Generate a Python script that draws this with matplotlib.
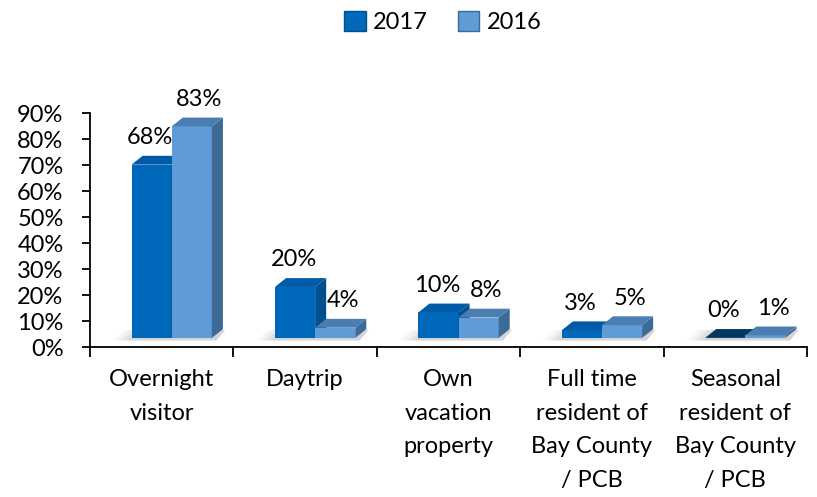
import matplotlib.pyplot as plt
from matplotlib.patches import Polygon, Patch
from matplotlib.ticker import FuncFormatter, FixedLocator

plt.rcParams["font.family"] = ["Lato", "DejaVu Sans"]

categories = [
    "Overnight\nvisitor",
    "Daytrip",
    "Own\nvacation\nproperty",
    "Full time\nresident of\nBay County\n/ PCB",
    "Seasonal\nresident of\nBay County\n/ PCB",
]
values_2017 = [0.68, 0.20, 0.10, 0.03, 0.00]
values_2016 = [0.83, 0.04, 0.08, 0.05, 0.01]
labels_2017 = ["68%", "20%", "10%", "3%", "0%"]
labels_2016 = ["83%", "4%", "8%", "5%", "1%"]

# fake 3D geometry (data units)
WIDTH = 0.28
DX = 0.077
DY = 0.034
FLOOR = 0.035
SCALE = 0.98

C2017 = {"front": "#0068BA", "top": "#005AA6", "side": "#00508F", "zero": "#003862"}
C2016 = {"front": "#5F9BD6", "top": "#4B7DB0", "side": "#3E6A98", "zero": "#4B7DB0"}

FS = 17


def draw_box(ax, x0, v, colors):
    h = FLOOR + v * SCALE
    if v > 0:
        ax.add_patch(Polygon([(x0, FLOOR), (x0 + WIDTH, FLOOR), (x0 + WIDTH, h), (x0, h)],
                             closed=True, facecolor=colors["front"], edgecolor="none", zorder=3))
        ax.add_patch(Polygon([(x0 + WIDTH, FLOOR), (x0 + WIDTH + DX, FLOOR + DY),
                              (x0 + WIDTH + DX, h + DY), (x0 + WIDTH, h)],
                             closed=True, facecolor=colors["side"], edgecolor="none", zorder=3))
        top = colors["top"]
    else:
        top = colors["zero"]
    ax.add_patch(Polygon([(x0, h), (x0 + WIDTH, h), (x0 + WIDTH + DX, h + DY), (x0 + DX, h + DY)],
                         closed=True, facecolor=top, edgecolor="none", zorder=3))
    return h


fig = plt.figure(figsize=(8.17, 4.97), dpi=100)
ax = fig.add_axes([90 / 817, 1 - 347 / 497, 717 / 817, 234 / 497])
ax.set_xlim(-0.5, len(categories) - 0.5)
ax.set_ylim(0, 0.9)

for i, (v17, v16) in enumerate(zip(values_2017, values_2016)):
    x17 = i - 0.21
    x16 = x17 + WIDTH
    # soft floor shadow, heavier towards the bars
    for k, a in enumerate([0.05, 0.07, 0.09, 0.11]):
        pad = 0.13 - k * 0.035
        ax.add_patch(Polygon([(x17 - pad, FLOOR - 0.010), (x16 + WIDTH + DX * 0.4, FLOOR - 0.010),
                              (x16 + WIDTH + DX + 0.015, FLOOR + DY * 0.9), (x17 - pad + DX, FLOOR + DY * 0.9)],
                             closed=True, facecolor="#707070", alpha=a, edgecolor="none", zorder=2))
    h17 = draw_box(ax, x17, v17, C2017)
    h16 = draw_box(ax, x16, v16, C2016)
    ax.annotate(labels_2017[i], (x17 + WIDTH / 2, h17), xytext=(-1, 19.5), textcoords="offset points",
                ha="center", va="center", fontsize=FS, zorder=4)
    ax.annotate(labels_2016[i], (x16 + WIDTH / 2, h16), xytext=(5.5, 19.5), textcoords="offset points",
                ha="center", va="center", fontsize=FS, zorder=4)

for s in ["top", "right"]:
    ax.spines[s].set_visible(False)
for s in ["left", "bottom"]:
    ax.spines[s].set_linewidth(1.3)
    ax.spines[s].set_color("black")

ax.yaxis.set_major_locator(FixedLocator([i / 10 for i in range(10)]))
ax.yaxis.set_major_formatter(FuncFormatter(lambda y, _: f"{y:.0%}"))
ax.tick_params(axis="y", length=6, width=1.3, pad=13, labelsize=FS)

ax.set_xticks([i - 0.5 for i in range(len(categories) + 1)])
ax.set_xticklabels([])
ax.set_xticks(range(len(categories)), minor=True)
ax.set_xticklabels(categories, minor=True, fontsize=FS, linespacing=1.74)
ax.tick_params(axis="x", which="major", length=7, width=1.3, direction="out")
ax.tick_params(axis="x", which="minor", length=0, pad=16)

handles = [
    Patch(facecolor=C2017["front"], edgecolor=C2017["side"], label="2017"),
    Patch(facecolor=C2016["front"], edgecolor=C2016["side"], label="2016"),
]
fig.legend(handles=handles, loc="center", bbox_to_anchor=(0.542, 0.955), ncol=2, frameon=False,
           fontsize=FS, handlelength=0.9, handleheight=0.9, handletextpad=0.3, columnspacing=1.3)

fig.savefig("out.png", dpi=100)
